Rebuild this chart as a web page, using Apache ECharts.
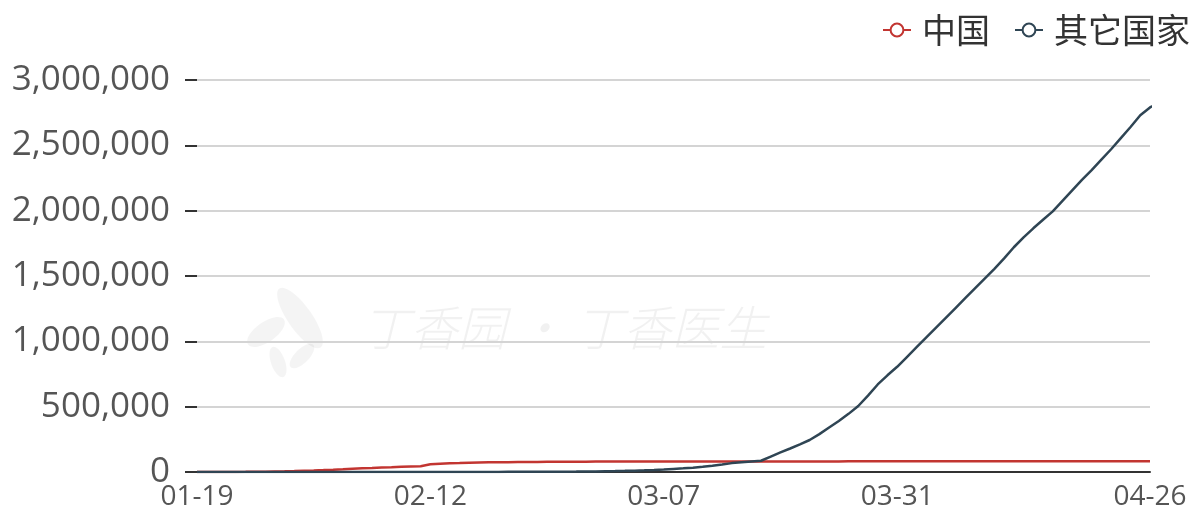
<!DOCTYPE html>
<html>
<head>
<meta charset="utf-8">
<script src="https://cdn.jsdelivr.net/npm/echarts@6/dist/echarts.min.js"></script>
<style>
  html, body { margin: 0; padding: 0; background: #fff; }
  #chart { width: 1198px; height: 518px; }
</style>
</head>
<body>
<div id="chart"></div>
<script>
// Daily dates, 01-19 .. 04-26
const dates = [
  '01-19','01-20','01-21','01-22','01-23','01-24','01-25','01-26','01-27','01-28','01-29','01-30','01-31',
  '02-01','02-02','02-03','02-04','02-05','02-06','02-07','02-08','02-09','02-10','02-11','02-12','02-13','02-14',
  '02-15','02-16','02-17','02-18','02-19','02-20','02-21','02-22','02-23','02-24','02-25','02-26','02-27','02-28','02-29',
  '03-01','03-02','03-03','03-04','03-05','03-06','03-07','03-08','03-09','03-10','03-11','03-12','03-13','03-14',
  '03-15','03-16','03-17','03-18','03-19','03-20','03-21','03-22','03-23','03-24','03-25','03-26','03-27','03-28',
  '03-29','03-30','03-31',
  '04-01','04-02','04-03','04-04','04-05','04-06','04-07','04-08','04-09','04-10','04-11','04-12','04-13','04-14',
  '04-15','04-16','04-17','04-18','04-19','04-20','04-21','04-22','04-23','04-24','04-25','04-26'
];

// Cumulative confirmed cases, China
const china = [
  198, 291, 440, 571, 830, 1287, 1975, 2744, 4515, 5974, 7711, 9692, 11791,
  14380, 17205, 20438, 24324, 28018, 31161, 34546, 37198, 40171, 42638, 44653, 59804, 63851, 66492,
  68500, 70548, 72436, 74185, 74576, 75465, 76288, 76936, 77150, 77658, 78064, 78497, 78824, 79251, 79824,
  80026, 80151, 80270, 80409, 80552, 80651, 80695, 80735, 80754, 80778, 80793, 80813, 80824, 80844,
  80860, 80881, 80894, 80928, 80967, 81008, 81054, 81093, 81171, 81218, 81285, 81340, 81394, 81439,
  81470, 81518, 81554,
  81589, 81620, 81639, 81669, 81708, 81740, 81802, 81865, 81907, 81953, 82052, 82160, 82249, 82295,
  82341, 82692, 82719, 82735, 82747, 82758, 82788, 82798, 82804, 82816, 82827, 82830
];

// Cumulative confirmed cases, all other countries
const others = [
  4, 5, 7, 9, 12, 20, 30, 45, 55, 65, 80, 100, 130,
  145, 155, 165, 185, 200, 230, 280, 310, 330, 400, 440, 460, 500, 520,
  560, 690, 800, 840, 900, 1010, 1100, 1200, 1450, 1800, 2100, 2450, 2950, 3650, 4600,
  6000, 7300, 8800, 10500, 12800, 15500, 19000, 23500, 28000, 33000, 40000, 48000, 57000, 68000,
  75000, 81000, 86000, 118000, 150000, 180000, 212000, 245000, 290000, 340000, 390000, 445000, 505000, 585000,
  670000, 740000, 805000,
  880000, 955000, 1030000, 1105000, 1180000, 1255000, 1330000, 1405000, 1480000, 1555000, 1635000, 1720000, 1795000, 1865000,
  1930000, 1995000, 2075000, 2155000, 2235000, 2310000, 2390000, 2470000, 2555000, 2640000, 2730000, 2790000, 2830000
];

const seriesNames = ['中国', '其它国家'];
const seriesColors = ['#c23531', '#2f4554'];
const watermark = '丁香园 · 丁香医生';

const chart = echarts.init(document.getElementById('chart'), null, { renderer: 'canvas' });
const last = dates.length - 1;
const leafFill = 'rgba(0,0,0,0.045)';

// Faint leaf logo drawn as rotated ellipses
function leaf(cx, cy, rx, ry, deg) {
  return {
    type: 'ellipse',
    silent: true,
    z: 0,
    x: cx, y: cy,
    rotation: -deg * Math.PI / 180,
    shape: { cx: 0, cy: 0, rx: rx, ry: ry },
    style: { fill: leafFill }
  };
}

chart.setOption({
  animation: false,
  backgroundColor: '#fff',
  textStyle: { fontFamily: '"Open Sans", "Noto Sans CJK SC", sans-serif' },
  color: seriesColors,
  legend: {
    top: 8,
    right: 3,
    itemWidth: 28,
    itemHeight: 16,
    itemGap: 24,
    textStyle: { fontSize: 34, color: '#333', padding: [0, 0, 0, 6], fontFamily: '"Noto Sans CJK SC", sans-serif' },
    data: seriesNames
  },
  grid: { left: 197, right: 48, top: 80, bottom: 46, containLabel: false },
  graphic: [
    leaf(300, 318, 36, 12, 55),
    leaf(266, 332, 22, 10, -35),
    leaf(278, 362, 16, 7, 70),
    leaf(302, 356, 16, 7, -45),
    {
      type: 'text',
      left: 362,
      top: 304,
      silent: true,
      z: 0,
      style: {
        text: watermark,
        font: 'italic 300 48px "Noto Sans CJK SC", sans-serif',
        fill: 'rgba(0,0,0,0.055)'
      }
    }
  ],
  xAxis: {
    type: 'category',
    boundaryGap: false,
    data: dates,
    axisLine: { show: true, lineStyle: { color: '#333', width: 2 } },
    axisTick: { show: false },
    axisLabel: {
      fontSize: 28,
      color: '#555',
      margin: 11,
      interval: (idx) => (idx % 24 === 0 && idx <= 72) || idx === last
    },
    splitLine: { show: false }
  },
  yAxis: {
    type: 'value',
    min: 0,
    max: 3000000,
    interval: 500000,
    axisLine: { show: false },
    axisTick: { show: true, length: 12, lineStyle: { color: '#333', width: 2 } },
    axisLabel: {
      fontSize: 35,
      color: '#555',
      margin: 27,
      formatter: (v) => v.toLocaleString('en-US')
    },
    splitLine: { show: true, lineStyle: { color: '#d4d4d4', width: 2 } }
  },
  series: [
    {
      name: seriesNames[0],
      type: 'line',
      data: china,
      symbol: 'emptyCircle',
      symbolSize: 8,
      showSymbol: false,
      lineStyle: { width: 2.5 }
    },
    {
      name: seriesNames[1],
      type: 'line',
      data: others,
      symbol: 'emptyCircle',
      symbolSize: 8,
      showSymbol: false,
      lineStyle: { width: 2.5 }
    }
  ]
});
</script>
</body>
</html>
